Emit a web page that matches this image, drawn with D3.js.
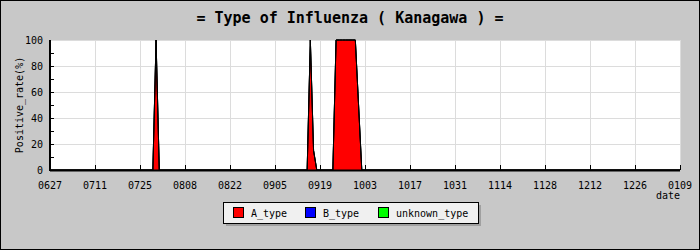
<!DOCTYPE html>
<html>
<head>
<meta charset="utf-8">
<script src="https://cdn.jsdelivr.net/npm/d3@7"></script>
<style>
  body { margin: 0; background: #c8c8c8; }
  svg { display: block; }
  text { font-family: "DejaVu Sans Mono", monospace; fill: #000; }
</style>
</head>
<body>
<svg class="chart"></svg>
<script>
// data (MMDD dates, 2009-2010 season)
var dates = ["0627", "0729", "0730", "0731", "0915", "0916", "0917", "0918",
             "0923", "0924", "0925", "0926", "0927", "0928", "0929", "0930",
             "1001", "1002", "0109"];
var aType =       [0, 0, 100, 0, 0, 100, 15, 0, 0, 100, 100, 100, 100, 100, 100, 100, 50, 0, 0];
var bType =       [0, 0, 0,   0, 0, 0,   0,  0, 0, 0,   0,   0,   0,   0,   0,   0,   0,  0, 0];
var unknownType = [0, 0, 0,   0, 0, 0,   0,  0, 0, 0,   0,   0,   0,   0,   0,   0,   0,  0, 0];
var tickLabels = ["0627", "0711", "0725", "0808", "0822", "0905", "0919", "1003",
                  "1017", "1031", "1114", "1128", "1212", "1226", "0109"];
var seriesNames = ["A_type", "B_type", "unknown_type"];
var colours = ["#ff0000", "#0000ff", "#00ff00"];

var W = 700, H = 250;
var margin = {top: 40, right: 20, bottom: 80, left: 50},
    width = W - margin.left - margin.right,
    height = H - margin.top - margin.bottom;

function parseDate(s) {
  var m = +s.slice(0, 2), d = +s.slice(2);
  return new Date(m < 6 ? 2010 : 2009, m - 1, d);
}

var rows = dates.map(function(d, i) {
  return {date: parseDate(d), A_type: aType[i], B_type: bType[i], unknown_type: unknownType[i]};
});

var xScale = d3.scaleTime()
    .domain([parseDate("0627"), parseDate("0109")])
    .range([0, width]);
var yScale = d3.scaleLinear()
    .domain([0, 100])
    .range([height, 0]);

var chart = d3.select(".chart").attr("width", W).attr("height", H);

chart.append("rect")
    .attr("x", 0.5).attr("y", 0.5)
    .attr("width", W - 1).attr("height", H - 1)
    .attr("fill", "#c8c8c8")
    .attr("stroke", "#000");

chart.append("text")
    .attr("x", W / 2)
    .attr("y", 23)
    .attr("text-anchor", "middle")
    .style("font-size", "15px")
    .style("font-weight", "bold")
    .text("= Type of Influenza ( Kanagawa ) =");

var g = chart.append("g")
    .attr("transform", "translate(" + margin.left + "," + margin.top + ")");

g.append("rect")
    .attr("width", width).attr("height", height)
    .attr("fill", "#fff");

var tickDates = tickLabels.map(parseDate);

// grid
g.selectAll(".vgrid")
    .data(tickDates)
  .enter().append("line")
    .attr("x1", function(d) { return Math.round(xScale(d)) + 0.5; })
    .attr("x2", function(d) { return Math.round(xScale(d)) + 0.5; })
    .attr("y1", 0).attr("y2", height)
    .attr("stroke", "#dcdcdc");

g.selectAll(".hgrid")
    .data([20, 40, 60, 80, 100])
  .enter().append("line")
    .attr("x1", 0).attr("x2", width)
    .attr("y1", function(d) { return Math.round(yScale(d)) + 0.5; })
    .attr("y2", function(d) { return Math.round(yScale(d)) + 0.5; })
    .attr("stroke", "#dcdcdc");

// stacked areas
var stack = d3.stack().keys(seriesNames);
var layers = stack(rows);

var area = d3.area()
    .x(function(d) { return xScale(d.data.date); })
    .y0(function(d) { return yScale(d[0]); })
    .y1(function(d) { return yScale(d[1]); });

var topLine = d3.line()
    .x(function(d) { return xScale(d.data.date); })
    .y(function(d) { return yScale(d[1]); });

g.selectAll(".layer")
    .data(layers)
  .enter().append("path")
    .attr("class", "layer")
    .attr("d", area)
    .attr("fill", function(d, i) { return colours[i]; });

g.selectAll(".edge")
    .data(layers)
  .enter().append("path")
    .attr("class", "edge")
    .attr("d", topLine)
    .attr("fill", "none")
    .attr("stroke", "#000")
    .attr("stroke-width", 1);

// ticks
g.selectAll(".xtick")
    .data(tickDates)
  .enter().append("line")
    .attr("x1", function(d) { return Math.round(xScale(d)) + 0.5; })
    .attr("x2", function(d) { return Math.round(xScale(d)) + 0.5; })
    .attr("y1", height).attr("y2", height - 5)
    .attr("stroke", "#000");

g.selectAll(".ytick")
    .data(d3.range(10, 100, 10))
  .enter().append("line")
    .attr("x1", 0).attr("x2", 4)
    .attr("y1", function(d) { return Math.round(yScale(d)) + 0.5; })
    .attr("y2", function(d) { return Math.round(yScale(d)) + 0.5; })
    .attr("stroke", "#000");

// axes lines
g.append("line")
    .attr("x1", 0).attr("x2", width)
    .attr("y1", height + 0.5).attr("y2", height + 0.5)
    .attr("stroke", "#000").attr("stroke-width", 2);
g.append("line")
    .attr("x1", 0).attr("x2", 0)
    .attr("y1", 0).attr("y2", height + 1)
    .attr("stroke", "#000").attr("stroke-width", 2);

// labels
g.selectAll(".xlabel")
    .data(tickDates)
  .enter().append("text")
    .attr("x", function(d) { return xScale(d); })
    .attr("y", height + 19)
    .attr("text-anchor", "middle")
    .style("font-size", "10px")
    .text(function(d, i) { return tickLabels[i]; });

g.selectAll(".ylabel")
    .data([0, 20, 40, 60, 80, 100])
  .enter().append("text")
    .attr("x", -7)
    .attr("y", function(d) { return yScale(d); })
    .attr("dy", "0.35em")
    .attr("text-anchor", "end")
    .style("font-size", "10px")
    .text(function(d) { return d; });

g.append("text")
    .attr("x", width)
    .attr("y", height + 29)
    .attr("text-anchor", "end")
    .style("font-size", "10px")
    .text("date");

g.append("text")
    .attr("transform", "translate(-27," + (height / 2) + ") rotate(-90)")
    .attr("text-anchor", "middle")
    .style("font-size", "10px")
    .text("Positive_rate(%)");

// legend
var legend = chart.append("g").attr("transform", "translate(223,202)");
legend.append("rect")
    .attr("x", 3).attr("y", 3)
    .attr("width", 255).attr("height", 21)
    .attr("fill", "#a0a0a0");
legend.append("rect")
    .attr("x", 0.5).attr("y", 0.5)
    .attr("width", 255).attr("height", 21)
    .attr("fill", "#f0f0f0")
    .attr("stroke", "#000");

var itemX = [10, 82, 155];
var items = legend.selectAll(".item")
    .data(seriesNames)
  .enter().append("g")
    .attr("transform", function(d, i) { return "translate(" + itemX[i] + ",0)"; });
items.append("rect")
    .attr("x", 0.5).attr("y", 5.5)
    .attr("width", 10).attr("height", 10)
    .attr("fill", function(d, i) { return colours[i]; })
    .attr("stroke", "#000");
items.append("text")
    .attr("x", 18)
    .attr("y", 11)
    .attr("dy", "0.35em")
    .style("font-size", "10px")
    .text(function(d) { return d; });
</script>
</body>
</html>
